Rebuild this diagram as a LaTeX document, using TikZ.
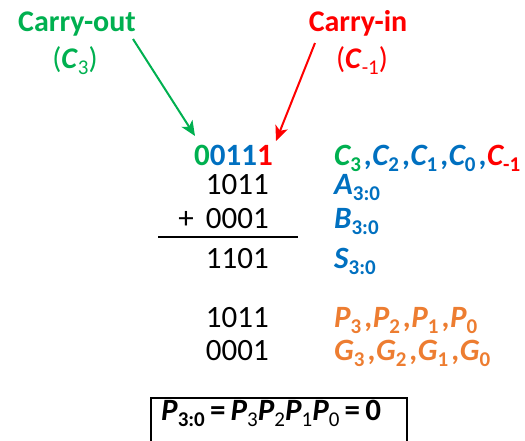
\documentclass[tikz,border=0pt]{standalone}
\usepackage{fontspec}
\setmainfont{Carlito}
\usetikzlibrary{arrows.meta}
\definecolor{cgreen}{HTML}{00B050}
\definecolor{cblue}{HTML}{0070C0}
\definecolor{cred}{HTML}{FF0000}
\definecolor{corange}{HTML}{ED7D31}
\newcommand\mysub[1]{\raisebox{-0.2em}{\fontsize{21}{21}\selectfont\upshape #1}}
\newcommand\gp{\hspace{3.5pt}}
\begin{document}
\begin{tikzpicture}[x=1pt,y=-1pt,
  every node/.style={inner sep=0pt, font=\fontsize{31}{36}\selectfont},
  lbl/.style={anchor=base west, font=\fontsize{31}{36}\selectfont\bfseries\itshape},
  num/.style={anchor=base east},
  ttl/.style={anchor=base, font=\fontsize{30}{36}\selectfont\bfseries},
  arr/.style={line width=2pt, -{Stealth[length=15pt,width=13pt,inset=4pt]}}]
\useasboundingbox (0,0) rectangle (525,440);
\clip (0,0) rectangle (525,440);
% titles
\node[ttl, text=cgreen] (cout) at (77,31) {Carry-out};
\node[anchor=base, text=cgreen, font=\fontsize{30}{36}\selectfont] (c3) at (75,68) {(\textbf{\textit{C}}\mysub{3})};
\node[ttl, text=cred] (cin) at (358,31) {Carry-in};
\node[anchor=base, text=cred, font=\fontsize{30}{36}\selectfont] (cm1) at (362,68) {(\textbf{\textit{C}}\mysub{-1})};
% carries
\node[num, font=\fontsize{31}{36}\selectfont\bfseries] (carry) at (273,165) {\textcolor{cgreen}{0}\textcolor{cblue}{011}\textcolor{cred}{1}};
\node[lbl] (clist) at (334,165) {\textcolor{cgreen}{C\mysub{3}}\gp\textcolor{cblue}{,C\mysub{2}\gp,C\mysub{1}\gp,C\mysub{0}\gp,}\textcolor{cred}{C\mysub{-1}}};
% arrows
\coordinate (gs) at (133,39);
\coordinate (gt) at (195,136);
\coordinate (rs) at (315,43);
\coordinate (rt) at (276,141);
\draw[arr, cgreen] (gs) -- (gt);
\draw[arr, cred] (rs) -- (rt);
% operands
\node[num] (a) at (269,194) {1011};
\node[lbl, text=cblue] (alab) at (334,194) {A\mysub{3:0}};
\node[num] (b) at (269,228) {+\, 0001};
\node[lbl, text=cblue] (blab) at (334,228) {B\mysub{3:0}};
\coordinate (l1) at (158,237);
\coordinate (l2) at (298,237);
\draw[line width=1.5pt] (l1) -- (l2);
\node[num] (s) at (269,268) {1101};
\node[lbl, text=cblue] (slab) at (334,268) {S\mysub{3:0}};
% propagate / generate
\node[num] (p) at (269,327) {1011};
\node[lbl, text=corange] (plab) at (334,327) {P\mysub{3}\gp,P\mysub{2}\gp,P\mysub{1}\gp,P\mysub{0}};
\node[num] (g) at (269,360) {0001};
\node[lbl, text=corange] (glab) at (334,360) {G\mysub{3}\gp,G\mysub{2}\gp,G\mysub{1}\gp,G\mysub{0}};
% box
\node[draw, line width=1.5pt, minimum width=256pt, minimum height=60pt, anchor=north west] (box) at (150,397) {};
\node[anchor=base west, font=\fontsize{31}{36}\selectfont\bfseries] (eq) at (161,420) {\textit{P}\mysub{3:0}\,=\,\textit{P}{\mdseries\mysub{3}}\textit{P}{\mdseries\mysub{2}}\textit{P}{\mdseries\mysub{1}}\textit{P}{\mdseries\mysub{0}}\,=\,0};
\end{tikzpicture}
\end{document}
